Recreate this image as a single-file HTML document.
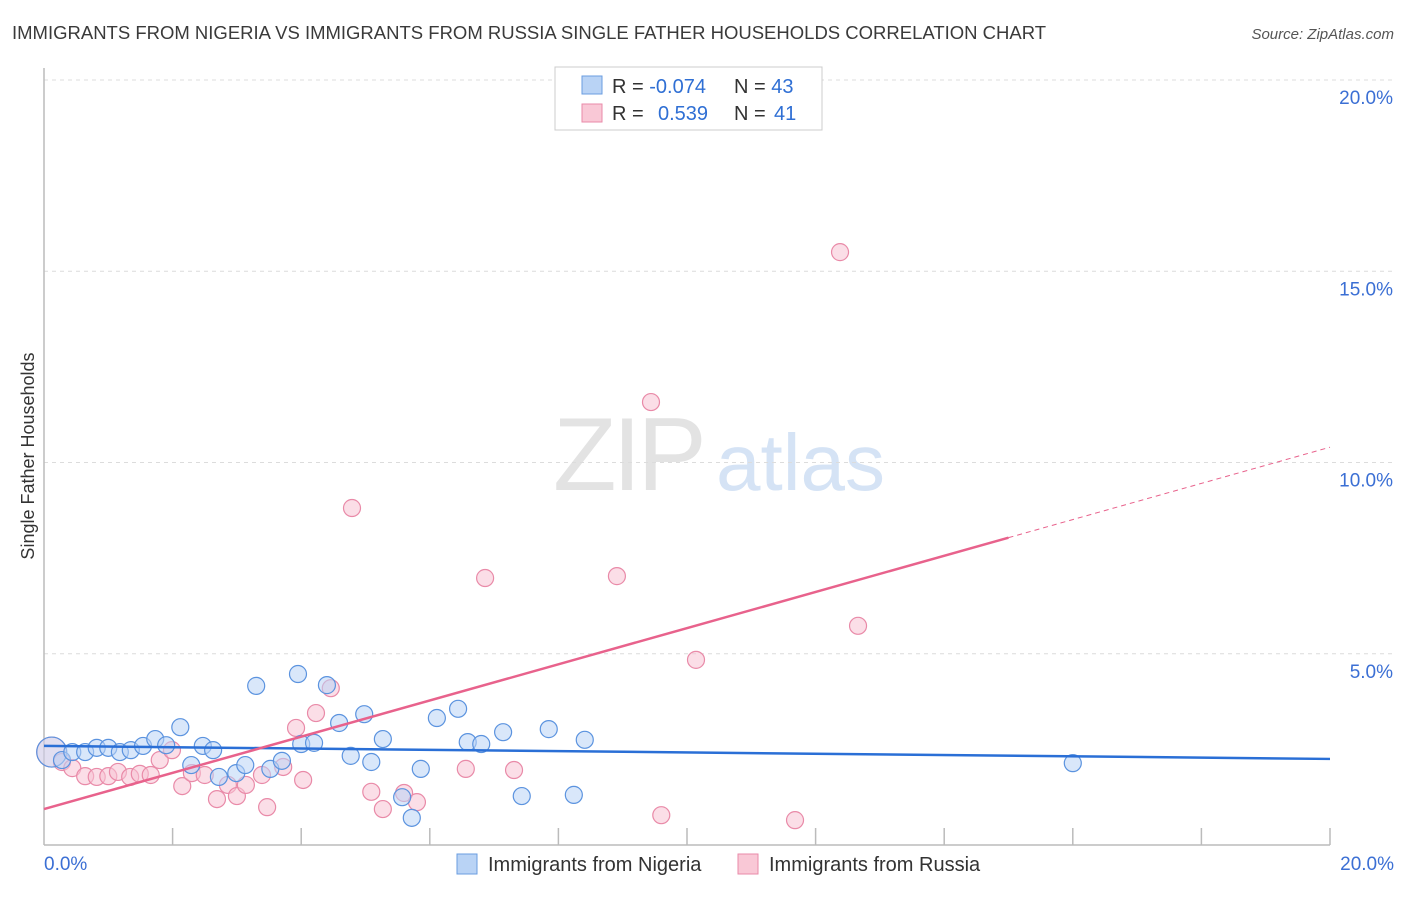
<!DOCTYPE html>
<html><head><meta charset="utf-8"><style>
body{margin:0;background:#fff;font-family:"Liberation Sans",sans-serif;}
svg text{font-family:"Liberation Sans",sans-serif;}
</style></head><body>
<svg id="chart" width="1406" height="892" viewBox="0 0 1406 892" xmlns="http://www.w3.org/2000/svg">
<text x="12" y="39" font-size="18.5" fill="#3a3a3a">IMMIGRANTS FROM NIGERIA VS IMMIGRANTS FROM RUSSIA SINGLE FATHER HOUSEHOLDS CORRELATION CHART</text>
<text x="1394" y="39" font-size="15" fill="#555" font-style="italic" text-anchor="end">Source: ZipAtlas.com</text>
<g>
<text x="553" y="490" font-size="104" fill="#e3e3e3" font-family="Liberation Serif" letter-spacing="-4">ZIP</text>
<text x="716" y="490" font-size="80" fill="#d5e3f5">atlas</text>
</g>
<g id="grid"></g>
<g id="axes"></g>
<g id="marks"></g>
<text transform="translate(34,456) rotate(-90)" font-size="18" fill="#333" text-anchor="middle">Single Father Households</text>
<g>
<rect x="555" y="67" width="267" height="63" fill="#fff" stroke="#ccc"/>
<rect x="582" y="76" width="20" height="18" fill="#b9d3f5" stroke="#6a9de0"/>
<rect x="582" y="104" width="20" height="18" fill="#f9c8d6" stroke="#e98aa8"/>
<text x="612" y="93" font-size="20" fill="#333">R = <tspan fill="#2f6fd4">-0.074</tspan></text>
<text x="734" y="93" font-size="20" fill="#333">N = <tspan fill="#2f6fd4">43</tspan></text>
<text x="612" y="120" font-size="20" fill="#333">R = <tspan fill="#2f6fd4" x="658">0.539</tspan></text>
<text x="734" y="120" font-size="20" fill="#333">N = <tspan fill="#2f6fd4" x="774">41</tspan></text>
</g>
<g>
<rect x="457" y="854" width="20" height="20" fill="#b9d3f5" stroke="#6a9de0"/>
<text x="488" y="871" font-size="20" fill="#333">Immigrants from Nigeria</text>
<rect x="738" y="854" width="20" height="20" fill="#f9c8d6" stroke="#e98aa8"/>
<text x="769" y="871" font-size="20" fill="#333">Immigrants from Russia</text>
</g>
</svg>
<script>
const yTicks=[5,10,15,20];
const yTickLabels=["5.0%","10.0%","15.0%","20.0%"];
const xTickLabels=["0.0%","20.0%"];
const nigeriaX=[0.12,0.28,0.44,0.64,0.82,1.0,1.18,1.35,1.54,1.73,1.9,2.12,2.29,2.47,2.63,2.72,2.99,3.13,3.3,3.52,3.7,3.95,4.0,4.2,4.4,4.59,4.77,4.98,5.09,5.27,5.86,5.72,5.57,6.11,6.44,6.59,6.8,7.14,7.43,7.85,8.24,8.41,16.0];
const nigeriaY=[2.43,2.22,2.43,2.43,2.54,2.54,2.43,2.48,2.59,2.77,2.61,3.08,2.09,2.59,2.48,1.78,1.88,2.09,4.16,1.99,2.2,4.47,2.64,2.67,4.18,3.19,2.33,3.42,2.17,2.77,1.99,0.71,1.25,3.32,3.56,2.69,2.64,2.95,1.28,3.03,1.31,2.75,2.14];
const russiaX=[0.12,0.28,0.44,0.64,0.82,1.0,1.15,1.34,1.49,1.66,1.8,1.99,2.15,2.3,2.5,2.69,2.86,3.0,3.14,3.39,3.47,3.72,3.92,4.03,4.23,4.46,4.79,5.09,5.27,5.6,5.8,6.56,6.86,7.31,8.91,9.44,9.6,10.14,11.68,12.38,12.66];
const russiaY=[2.43,2.17,2.01,1.8,1.78,1.8,1.91,1.78,1.86,1.83,2.22,2.48,1.54,1.88,1.83,1.2,1.57,1.28,1.57,1.83,0.99,2.04,3.06,1.7,3.45,4.1,8.81,1.39,0.94,1.36,1.12,1.99,6.98,1.96,7.03,11.58,0.78,4.84,0.65,15.5,5.73];
const nigeriaTrend=[2.59,2.25];
const russiaTrend=[0.94,10.4];
const russiaSolidEnd=15.0;

const X0=44,X1=1330,Y0=845,Y1=80;
const xs=v=>X0+(v/20)*(X1-X0);
const ys=v=>Y0-(v/20)*(Y0-Y1);
const NS="http://www.w3.org/2000/svg";
function mk(tag,attrs,parent){const e=document.createElementNS(NS,tag);for(const k in attrs)e.setAttribute(k,attrs[k]);parent.appendChild(e);return e;}
const grid=document.getElementById('grid'),axes=document.getElementById('axes'),marks=document.getElementById('marks');
yTicks.forEach((t,i)=>{
  const l=mk('line',{x1:X0,x2:1394,y1:ys(t),y2:ys(t),stroke:'#dcdcdc','stroke-dasharray':'4,4'},grid);
  
  
  const tx=mk('text',{x:1393,y:ys(t)+24,'font-size':19,fill:'#3b6fd4','text-anchor':'end'},axes);
  tx.textContent=yTickLabels[i];
  
  
});
const al=mk('line',{x1:X0,x2:X0,y1:68,y2:Y0,stroke:'#bbb','stroke-width':1.5},axes);


const bl=mk('line',{x1:X0,x2:X1,y1:Y0,y2:Y0,stroke:'#bbb','stroke-width':1.5},axes);


for(let v=2;v<=20;v+=2){
  const t=mk('line',{x1:xs(v),x2:xs(v),y1:828,y2:Y0,stroke:'#bbb','stroke-width':1.5},axes);
  
  
}
[[0,'start',44],[20,'end',1394]].forEach((d,i)=>{
  const t=mk('text',{x:d[2],y:870,'font-size':19,fill:'#3b6fd4','text-anchor':d[1]},axes);
  t.textContent=xTickLabels[i];
  
  
});
function pts(X,Y,fill,stroke,name){
  X.forEach((x,i)=>{
    const c=mk('circle',{cx:xs(x),cy:ys(Y[i]),r:i===0?15:8.5,fill:fill,'fill-opacity':i===0?0.4:0.55,stroke:stroke,'stroke-width':1.2},marks);
    
    
  });
}
pts(russiaX,russiaY,'#f8c3d3','#e98aa8','russia-point');
pts(nigeriaX,nigeriaY,'#b9d3f5','#5b93df','nigeria-point');
const bt=mk('line',{x1:xs(0),y1:ys(nigeriaTrend[0]),x2:xs(20),y2:ys(nigeriaTrend[1]),stroke:'#2a6fd6','stroke-width':2.5},marks);


const ry=v=>russiaTrend[0]+(russiaTrend[1]-russiaTrend[0])*v/20;
const rt=mk('line',{x1:xs(0),y1:ys(ry(0)),x2:xs(russiaSolidEnd),y2:ys(ry(russiaSolidEnd)),stroke:'#e8628c','stroke-width':2.5},marks);


const rd=mk('line',{x1:xs(russiaSolidEnd),y1:ys(ry(russiaSolidEnd)),x2:xs(20),y2:ys(ry(20)),stroke:'#e8628c','stroke-width':1,'stroke-dasharray':'5,4'},marks);


</script>
</body></html>
